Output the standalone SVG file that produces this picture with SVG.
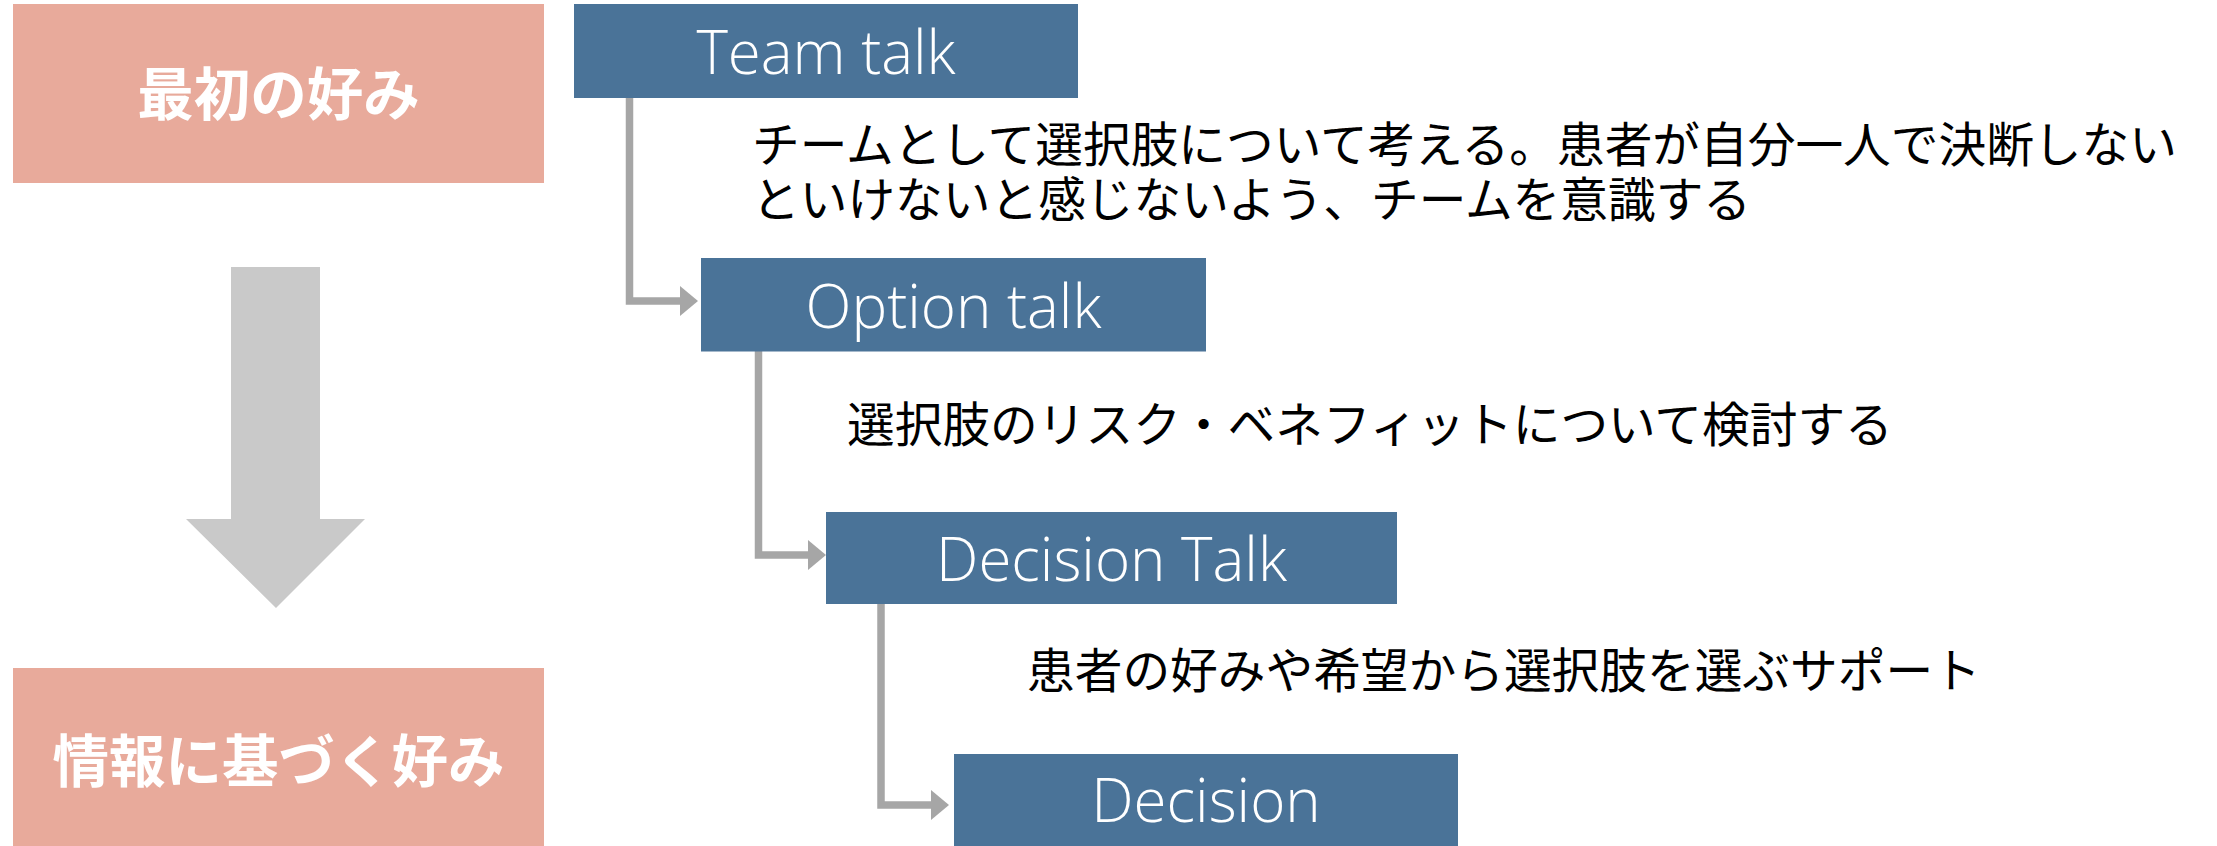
<svg xmlns="http://www.w3.org/2000/svg" width="2217" height="846" viewBox="0 0 2217 846">
  <style>
    .pink { fill: #E8AA9B; }
    .blue { fill: #4A7398; }
    .ptext { font-family: "Noto Sans CJK JP", sans-serif; font-weight: bold; font-size: 56.5px; fill: #FFFFFF; text-anchor: middle; }
    .btext { font-family: "Open Sans", "Liberation Sans", sans-serif; font-weight: 300; font-size: 60px; fill: #FFFFFF; text-anchor: middle; }
    .desc { font-family: "Noto Sans CJK JP", sans-serif; font-size: 47.7px; fill: #000000; }
    .conn { fill: none; stroke: #A6A6A6; stroke-width: 7.5; }
  </style>
  <defs>
    <marker id="ah" viewBox="0 0 18 30" markerWidth="18" markerHeight="30" refX="4" refY="15" markerUnits="userSpaceOnUse" orient="auto">
      <path d="M0,0 L18,15 L0,30 Z" fill="#A6A6A6"/>
    </marker>
  </defs>
  <rect width="2217" height="846" fill="#FFFFFF"/>

  <g id="initial-preference">
    <rect class="pink" x="13" y="4" width="531" height="179"/>
    <text class="ptext" x="278.5" y="115">最初の好み</text>
  </g>

  <g id="flow-arrow">
    <polygon points="231,267 320,267 320,519 365,519 276,608 186,519 231,519" fill="#C9C9C9"/>
  </g>

  <g id="informed-preference">
    <rect class="pink" x="13" y="668" width="531" height="180"/>
    <text class="ptext" x="278.5" y="782">情報に基づく好み</text>
  </g>

  <g id="connectors">
    <path class="conn" d="M629.5,98 V301 H684" marker-end="url(#ah)"/>
    <path class="conn" d="M758.5,351 V555 H812" marker-end="url(#ah)"/>
    <path class="conn" d="M881,603 V805 H935" marker-end="url(#ah)"/>
  </g>

  <g id="team-talk">
    <rect class="blue" x="574" y="4" width="504" height="94"/>
    <text class="btext" x="826" y="74">Team talk</text>
  </g>
  <g id="team-talk-desc">
    <text class="desc" x="752" y="162">チームとして選択肢について考える。患者が自分一人で決断しない</text>
    <text class="desc" x="752" y="217">といけないと感じないよう、チームを意識する</text>
  </g>

  <g id="option-talk">
    <rect class="blue" x="701" y="258" width="505" height="93.5"/>
    <text class="btext" x="953.5" y="328">Option talk</text>
  </g>
  <g id="option-talk-desc">
    <text class="desc" x="847" y="442">選択肢のリスク・ベネフィットについて検討する</text>
  </g>

  <g id="decision-talk">
    <rect class="blue" x="826" y="512" width="571" height="92"/>
    <text class="btext" x="1111.5" y="581">Decision Talk</text>
  </g>
  <g id="decision-talk-desc">
    <text class="desc" x="1027" y="688">患者の好みや希望から選択肢を選ぶサポート</text>
  </g>

  <g id="decision">
    <rect class="blue" x="954" y="754" width="504" height="94"/>
    <text class="btext" x="1206" y="822">Decision</text>
  </g>
</svg>
